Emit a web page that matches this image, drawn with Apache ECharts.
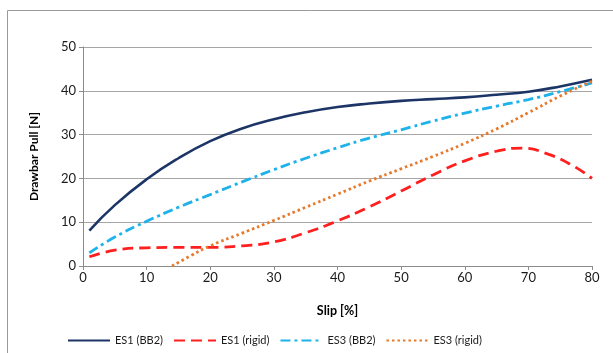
<!DOCTYPE html>
<html><head><meta charset="utf-8">
<script src="https://cdn.jsdelivr.net/npm/echarts@6/dist/echarts.min.js"></script>
<style>html,body{margin:0;padding:0;background:#fff}#c{width:613px;height:353px}</style>
</head><body><div id="c"></div>
<script>
var es1bbX = [1, 5, 10, 15, 20, 25, 30, 35, 40, 45, 50, 55, 60, 65, 70, 75, 80];
var es1bbY = [8.1, 13.9, 19.8, 24.6, 28.5, 31.4, 33.5, 35.1, 36.3, 37.1, 37.7, 38.1, 38.5, 39.1, 39.8, 41.0, 42.5];
var es1rX = [1, 5, 10, 15, 20, 25, 30, 35, 40, 45, 50, 55, 60, 65, 69, 73, 77, 80];
var es1rY = [2.1, 3.6, 4.15, 4.25, 4.25, 4.6, 5.5, 7.6, 10.3, 13.5, 17.1, 20.8, 24.0, 26.2, 26.9, 25.6, 22.9, 20];
var es3bbX = [1, 5, 10, 15, 20, 25, 30, 35, 40, 45, 50, 55, 60, 65, 70, 75, 80];
var es3bbY = [3, 6.6, 10.2, 13.4, 16.3, 19.2, 22, 24.6, 27, 29.2, 31.1, 33.1, 34.9, 36.5, 38, 39.8, 41.8];
var es3rX = [14, 17, 20, 25, 30, 35, 40, 45, 50, 55, 60, 65, 70, 75, 80];
var es3rY = [0, 2.4, 4.6, 7.5, 10.4, 13.4, 16.4, 19.4, 22.2, 25, 28, 31.3, 35, 38.8, 42.2];
var names = ['ES1 (BB2)', 'ES1 (rigid)', 'ES3 (BB2)', 'ES3 (rigid)'];

function pairs(xs, ys) { return xs.map(function (x, i) { return [x, ys[i]]; }); }

var FONT = 'Lato';
var chart = echarts.init(document.getElementById('c'));
function mk(name, data, color, type, width) {
  return {
    name: name, type: 'line', data: data, smooth: 0.5, symbol: 'none',
    lineStyle: { color: color, width: width, type: type },
    itemStyle: { color: color }
  };
}
chart.setOption({
  animation: false,
  graphic: [{
    type: 'rect', left: 5, top: 8, shape: { width: 700, height: 400 },
    style: { fill: 'none', stroke: '#9a9a9a', lineWidth: 1 }, silent: true, z: -1
  }],
  grid: { left: 83, right: 21, top: 47, bottom: 87 },
  xAxis: {
    type: 'value', min: 0, max: 80, interval: 10,
    name: 'Slip [%]', nameLocation: 'middle', nameGap: 38,
    nameTextStyle: { fontFamily: FONT, fontWeight: 'bold', fontSize: 12.5, color: '#000' },
    axisLine: { lineStyle: { color: '#8c8c8c' } },
    axisTick: { show: true, length: 4, lineStyle: { color: '#8c8c8c' } },
    axisLabel: { fontFamily: FONT, fontSize: 13, color: '#1a1a1a', margin: 5 },
    splitLine: { show: false }
  },
  yAxis: {
    type: 'value', min: 0, max: 50, interval: 10,
    name: 'Drawbar Pull [N]', nameLocation: 'middle', nameGap: 43, nameRotate: 90,
    nameTextStyle: { fontFamily: FONT, fontWeight: 'bold', fontSize: 12, color: '#000' },
    axisLine: { show: true, lineStyle: { color: '#8c8c8c' } },
    axisTick: { show: true, length: 4, lineStyle: { color: '#8c8c8c' } },
    axisLabel: { fontFamily: FONT, fontSize: 13, color: '#1a1a1a', margin: 7 },
    splitLine: { lineStyle: { color: '#a6a6a6', width: 1 } }
  },
  legend: {
    top: 330, left: 62, itemWidth: 42, itemHeight: 10, itemGap: 10,
    itemStyle: { opacity: 0 },
    textStyle: { fontFamily: FONT, fontSize: 11, color: '#1a1a1a' },
    data: names
  },
  series: [
    mk(names[0], pairs(es1bbX, es1bbY), '#1c3566', 'solid', 2.6),
    mk(names[1], pairs(es1rX, es1rY), '#ff1f1f', [11, 6], 2.8),
    mk(names[2], pairs(es3bbX, es3bbY), '#1db2ea', [10, 4, 3, 4], 2.8),
    mk(names[3], pairs(es3rX, es3rY), '#e8782a', [2.5, 3], 2.8)
  ]
});
</script></body></html>
